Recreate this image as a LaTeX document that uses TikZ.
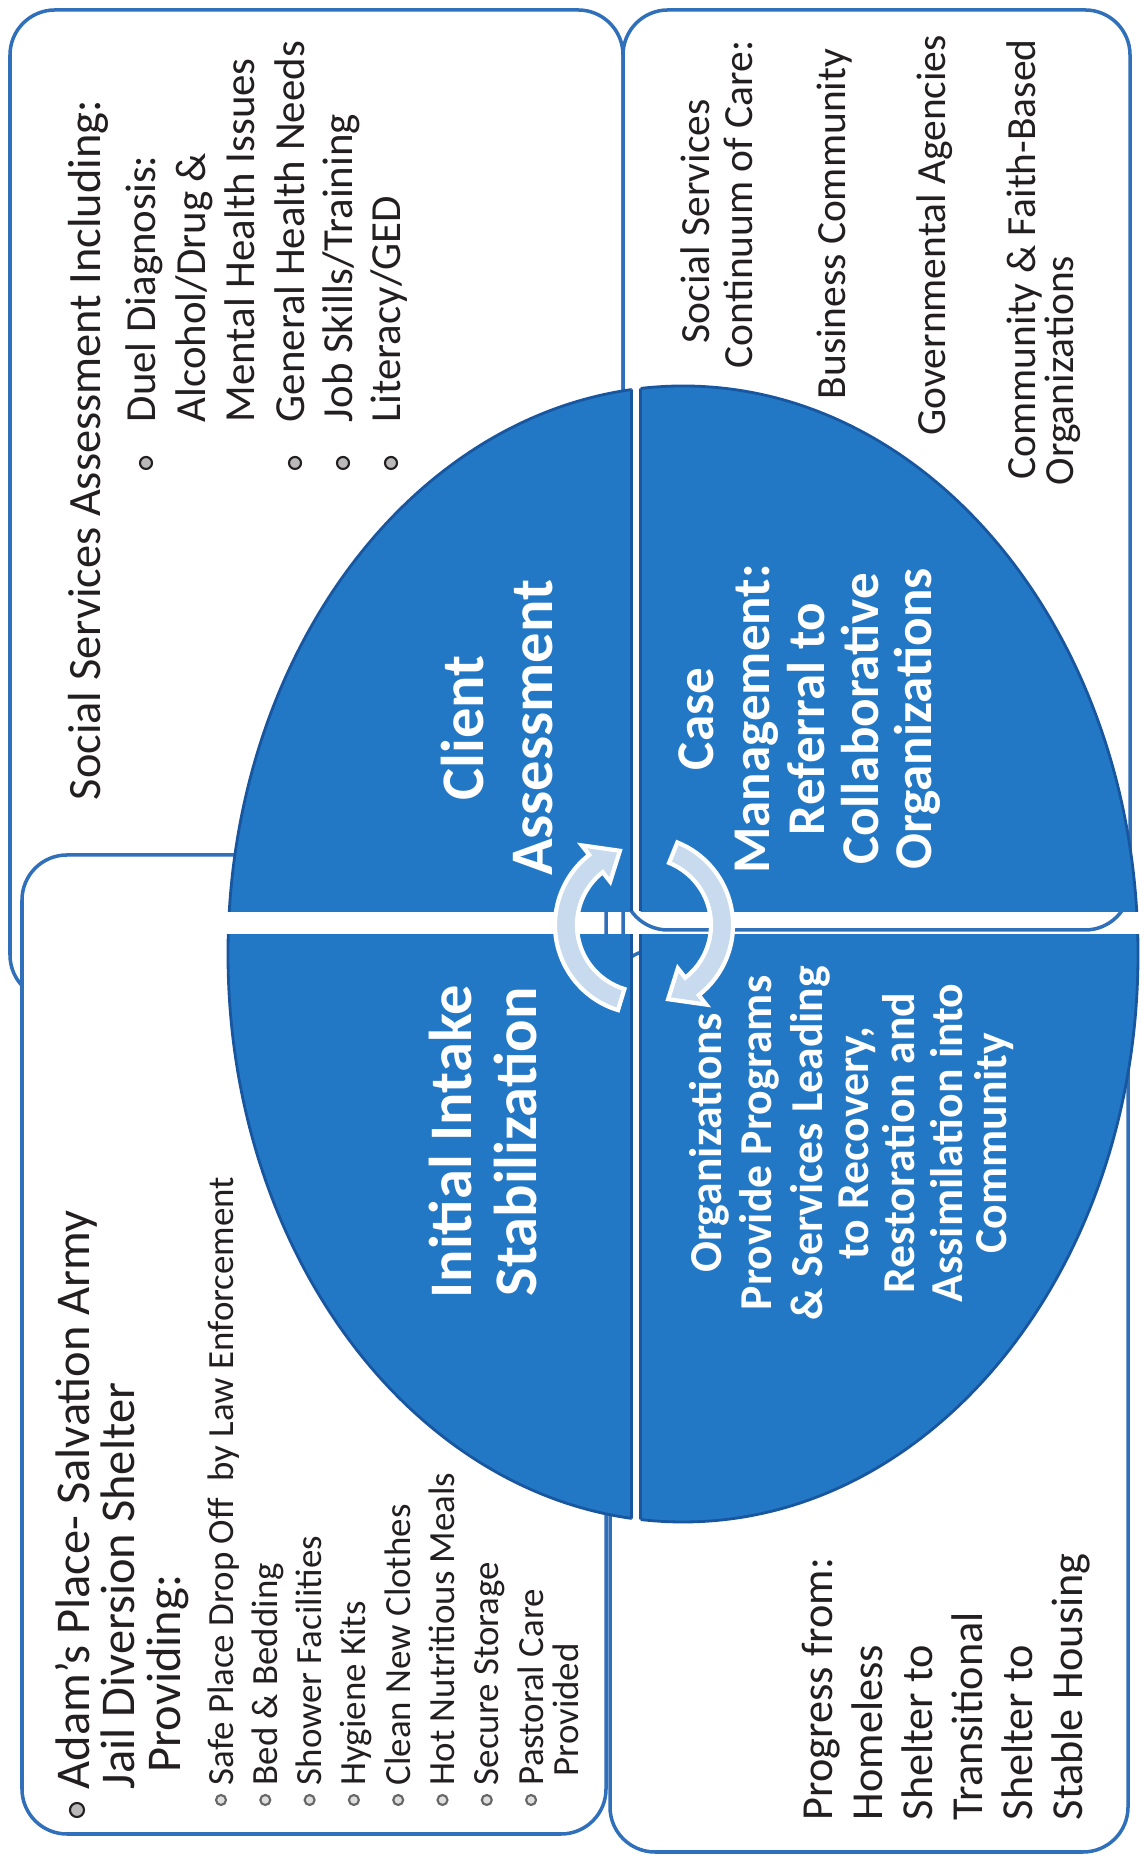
\documentclass[tikz,border=0pt]{standalone}
\usepackage{fontspec}
\setmainfont{Carlito}

\definecolor{quadblue}{RGB}{35,120,197}
\definecolor{quadedge}{RGB}{24,86,160}
\definecolor{boxline}{RGB}{48,112,186}
\definecolor{arrowfill}{RGB}{200,218,238}
\definecolor{ink}{RGB}{35,31,32}

\tikzset{
  panel/.style={draw=boxline, line width=1pt, fill=white, rounded corners=0.45cm},
  quad/.style={fill=quadblue, draw=quadedge, line width=0.8pt},
  gapline/.style={draw=quadedge, line width=0.6pt},
  cyclearrow/.style={fill=arrowfill, draw=white, line width=1.2pt},
  leftline/.style={rotate=90, anchor=base west, inner sep=0pt, text=ink},
  midline/.style={rotate=90, anchor=base, inner sep=0pt, text=white},
  ssahead/.style={leftline, font=\fontsize{13.2}{16}\selectfont},
  ssaitem/.style={leftline, font=\fontsize{12.2}{14}\selectfont},
  care/.style={leftline, font=\fontsize{11.8}{14}\selectfont},
  adamhead/.style={leftline, font=\fontsize{13.8}{16}\selectfont},
  adamitem/.style={leftline, font=\fontsize{10.5}{12}\selectfont},
  prog/.style={leftline, font=\fontsize{12.6}{15}\selectfont},
  ctrbig/.style={midline, font=\bfseries\fontsize{17.2}{20}\selectfont},
  ctrmid/.style={midline, font=\bfseries\fontsize{15.1}{18}\selectfont},
  ctrsmall/.style={midline, font=\bfseries\fontsize{13}{15}\selectfont},
  dot/.style={circle, fill=gray!55, draw=ink, line width=0.6pt, inner sep=0pt, minimum size=0.12cm},
  ring/.style={circle, fill=gray!25, draw=gray!80!black, line width=0.6pt, inner sep=0pt, minimum size=0.1cm}
}

\begin{document}
\begin{tikzpicture}
    \useasboundingbox (0,0) rectangle (11.43,18.60);
    \fill[white] (0,0) rectangle (11.43,18.60);

    % the four panels behind the circle
    \draw[panel] (0.10,8.60) rectangle (6.23,18.50);
    \draw[panel] (6.23,9.30) rectangle (11.30,18.50);
    \draw[panel] (0.22,0.26) rectangle (6.06,10.05);
    \draw[panel] (6.10,0.08) rectangle (11.28,9.10);

    % quarters of the ellipse
    \coordinate (E) at (6.83,9.06);
    \foreach \xa/\ya/\xb/\yb in {2/9.485/6.315/15, 6.405/9.485/11.5/15, 2/3/6.315/9.255, 6.405/3/11.5/9.255}{
        \begin{scope}
            \clip (\xa,\ya) rectangle (\xb,\yb);
            \draw[quad] (E) ellipse [x radius=4.55, y radius=5.68];
        \end{scope}
    }
    \begin{scope}
        \clip (E) ellipse [x radius=4.55, y radius=5.68];
        \draw[gapline] (6.315,9.485) -- (6.315,15) (6.405,9.485) -- (6.405,15);
        \draw[gapline] (6.315,3) -- (6.315,9.255) (6.405,3) -- (6.405,9.255);
    \end{scope}

    % cycle arrows
    \coordinate (C) at (6.44,9.35);
    \begin{scope}[shift={(C)}]
        \draw[cyclearrow] (253:0.89) arc[start angle=253, end angle=128, radius=0.89]
            -- (128:1.01) -- (108:0.78) -- (128:0.55) -- (128:0.67)
            arc[start angle=128, end angle=253, radius=0.67] -- cycle;
        \draw[cyclearrow] (68:0.89) arc[start angle=68, end angle=-52, radius=0.89]
            -- (-52:1.01) -- (-72:0.78) -- (-52:0.55) -- (-52:0.67)
            arc[start angle=-52, end angle=68, radius=0.67] -- cycle;
    \end{scope}

    % social services assessment
    \node[ssahead] (ssa) at (1.00,10.59) {Social Services Assessment Including:};
    \node[ssaitem] (ssa1) at (1.55,14.37) {Duel Diagnosis:};
    \node[ssaitem] (ssa2) at (2.05,14.37) {Alcohol/Drug \&};
    \node[ssaitem] (ssa3) at (2.54,14.37) {Mental Health Issues};
    \node[ssaitem] (ssa4) at (3.04,14.37) {General Health Needs};
    \node[ssaitem] (ssa5) at (3.52,14.37) {Job Skills/Training};
    \node[ssaitem] (ssa6) at (4.00,14.37) {Literacy/GED};
    \node[dot] (d1) at (1.46,13.97) {};
    \node[dot] (d4) at (2.95,13.97) {};
    \node[dot] (d5) at (3.43,13.97) {};
    \node[dot] (d6) at (3.91,13.97) {};

    % continuum of care
    \node[care] (car1) at (7.09,15.16) {Social Services};
    \node[care] (car2) at (7.52,14.91) {Continuum of Care:};
    \node[care] (car3) at (8.45,14.60) {Business Community};
    \node[care] (car4) at (9.45,14.24) {Governmental Agencies};
    \node[care] (car5) at (10.35,13.80) {Community \& Faith-Based};
    \node[care] (car6) at (10.73,13.74) {Organizations};

    % shelter
    \node[dot, minimum size=0.14cm] (da) at (0.77,0.50) {};
    \node[adamhead] (ad1) at (0.89,0.70) {Adam's Place- Salvation Army};
    \node[adamhead] (ad2) at (1.34,0.70) {Jail Diversion Shelter};
    \node[adamhead] (ad3) at (1.80,0.87) {Providing:};
    \foreach \t [count=\i] in {Safe Place Drop Off\ \ by Law Enforcement, Bed \& Bedding,
        Shower Facilities, Hygiene Kits, Clean New Clothes, Hot Nutritious Meals,
        Secure Storage, Pastoral Care}{
        \node[adamitem] (ai\i) at (2.33+0.443*\i-0.443,0.74) {\t};
        \node[ring] (r\i) at (2.21+0.443*\i-0.443,0.60) {};
    }
    \node[adamitem] (ai9) at (5.78,0.83) {Provided};

    % progress
    \foreach \t [count=\i] in {Progress from:, Homeless, Shelter to, Transitional,
        Shelter to, Stable Housing}{
        \node[prog] (pr\i) at (8.32+0.5*\i-0.5,0.39) {\t};
    }

    % quarter labels
    \node[ctrbig] (ca1) at (4.83,11.32) {Client};
    \node[ctrbig] (ca2) at (5.52,11.32) {Assessment};
    \node[ctrbig] (ii1) at (4.71,7.18) {Initial Intake};
    \node[ctrbig] (ii2) at (5.36,7.18) {Stabilization};
    \node[ctrmid] (cm1) at (7.13,11.41) {Case};
    \node[ctrmid] (cm2) at (7.69,11.41) {Management:};
    \node[ctrmid] (cm3) at (8.24,11.41) {Referral to};
    \node[ctrmid] (cm4) at (8.78,11.41) {Collaborative};
    \node[ctrmid] (cm5) at (9.31,11.41) {Organizations};
    \node[ctrsmall] (op1) at (7.21,7.17) {Organizations};
    \node[ctrsmall] (op2) at (7.71,7.17) {Provide Programs};
    \node[ctrsmall] (op3) at (8.22,7.17) {\& Services Leading};
    \node[ctrsmall] (op4) at (8.68,7.17) {to Recovery,};
    \node[ctrsmall] (op5) at (9.14,7.17) {Restoration and};
    \node[ctrsmall] (op6) at (9.62,7.17) {Assimilation into};
    \node[ctrsmall] (op7) at (10.06,7.17) {Community};
\end{tikzpicture}
\end{document}
